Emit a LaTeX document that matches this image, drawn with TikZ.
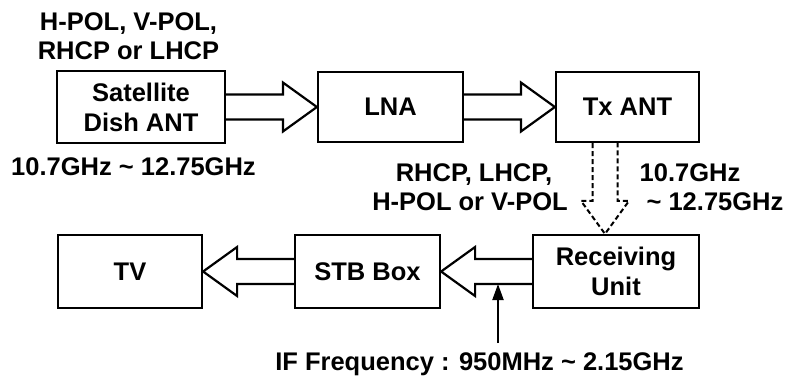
\documentclass[tikz,border=0pt]{standalone}
\usepackage{fontspec}
\setmainfont{Liberation Sans}
\usetikzlibrary{calc,arrows.meta}
\begin{document}
\begin{tikzpicture}[x=1pt,y=-1pt,
  every node/.style={font=\bfseries\fontsize{25.5}{30}\selectfont, inner sep=0pt},
  boxnode/.style={draw, line width=2.2pt, align=center},
  lbl/.style={anchor=base},
  blk/.style={draw, line width=2.2pt, line join=miter},
  dblk/.style={draw, line width=2pt, dash pattern=on 5pt off 3pt},
  ifarr/.style={line width=2pt, -{Triangle[length=16pt,width=11pt]}}]
\useasboundingbox (0,0) rectangle (787,376);
% boxes
\node[boxnode, minimum width=168pt, minimum height=72pt] (sat) at (141,107) {Satellite\\Dish ANT};
\node[boxnode, minimum width=145pt, minimum height=70pt] (lna) at (390.5,107) {LNA};
\node[boxnode, minimum width=143pt, minimum height=70pt] (tx) at (627.5,107) {Tx ANT};
\node[boxnode, minimum width=144pt, minimum height=73pt] (tv) at (130,271.5) {TV};
\node[boxnode, minimum width=145pt, minimum height=73pt] (stb) at (367.5,271.5) {STB Box};
\node[boxnode, minimum width=166pt, minimum height=73pt] (rx) at (616,271.5) {Receiving\\Unit};
% right block arrows
\draw[blk] ($(sat.east)+(0,12.5)$) -- ($(lna.west)+(-34,12.5)$) -- ($(lna.west)+(-34,24.5)$) -- (lna.west) -- ($(lna.west)+(-34,-24.5)$) -- ($(lna.west)+(-34,-12.5)$) -- ($(sat.east)+(0,-12.5)$);
\draw[blk] ($(lna.east)+(0,12.5)$) -- ($(tx.west)+(-34,12.5)$) -- ($(tx.west)+(-34,24.5)$) -- (tx.west) -- ($(tx.west)+(-34,-24.5)$) -- ($(tx.west)+(-34,-12.5)$) -- ($(lna.east)+(0,-12.5)$);
% left block arrows
\draw[blk] ($(rx.west)+(0,12.5)$) -- ($(stb.east)+(34,12.5)$) -- ($(stb.east)+(34,24.5)$) -- (stb.east) -- ($(stb.east)+(34,-24.5)$) -- ($(stb.east)+(34,-12.5)$) -- ($(rx.west)+(0,-12.5)$);
\draw[blk] ($(stb.west)+(0,12.5)$) -- ($(tv.east)+(34,12.5)$) -- ($(tv.east)+(34,24.5)$) -- (tv.east) -- ($(tv.east)+(34,-24.5)$) -- ($(tv.east)+(34,-12.5)$) -- ($(stb.west)+(0,-12.5)$);
% dashed down arrow
\coordinate (dtop) at ($(tx.south)+(-22.5,0)$);
\coordinate (dtip) at (dtop |- rx.north);
\draw[dblk] ($(dtop)+(-12.5,0)$) -- ($(dtip)+(-12.5,-33)$) -- ($(dtip)+(-24,-33)$) -- (dtip) -- ($(dtip)+(24,-33)$) -- ($(dtip)+(12.5,-33)$) -- ($(dtop)+(12.5,0)$);
% IF arrow
\coordinate (ifs) at (498,343);
\draw[ifarr] (ifs) -- ($(ifs |- stb.east)+(0,12.5)$);
% labels
\node[lbl] (t1) at (128.5,30) {H-POL, V-POL,};
\node[lbl] (t2) at (128.5,59) {RHCP or LHCP};
\node[lbl] (t3) at (133.5,175) {10.7GHz \textasciitilde{} 12.75GHz};
\node[lbl] (t4) at (474,181.5) {RHCP, LHCP,};
\node[lbl] (t5) at (470,210) {H-POL or V-POL};
\node[lbl] (t6) at (690,181.5) {10.7GHz};
\node[lbl] (t7) at (715,210) {\textasciitilde{} 12.75GHz};
\node[lbl] (t8) at (479.5,370) {IF Frequency : 950MHz \textasciitilde{} 2.15GHz};
\end{tikzpicture}
\end{document}
